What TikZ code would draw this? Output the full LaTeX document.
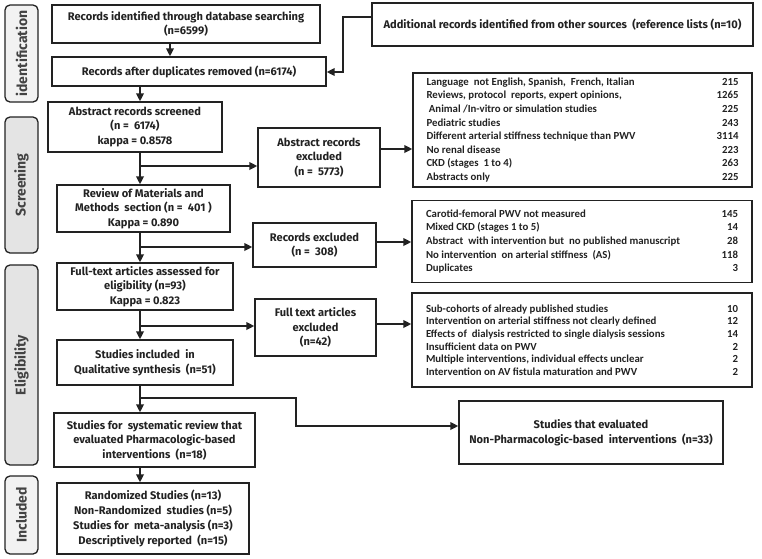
\documentclass[tikz,border=0pt]{standalone}
\usepackage{fontspec}
\setmainfont{Fira Sans}
\newfontfamily\listfont{Carlito}
\usetikzlibrary{arrows.meta}
\definecolor{ink}{HTML}{222222}
\definecolor{sidefill}{HTML}{E4E4E4}
\newcommand{\lrow}[2]{\makebox[292pt][l]{#1}\makebox[20pt][r]{#2}}
\begin{document}
\begin{tikzpicture}[x=1pt,y=-1pt,
  box/.style={draw=ink, line width=1.3pt, inner sep=0pt, align=center, text=ink,
    font=\bfseries\fontsize{11.1}{14.5}\selectfont},
  lst/.style={draw=ink, line width=1.3pt, inner sep=0pt, align=left, text=ink,
    font=\listfont\bfseries\fontsize{10.8}{13.6}\selectfont},
  side/.style={draw=ink, line width=1.3pt, rounded corners=5pt, inner sep=0pt, rotate=90,
    minimum height=33pt, text=ink!85, font=\bfseries\fontsize{14}{14}\selectfont},
  conn/.style={draw=ink, line width=2.3pt},
  arr/.style={conn, -{Triangle[length=8pt,width=7.5pt]}}
]
\useasboundingbox (0,0) rectangle (762,558);

% side bars
\node[side, fill=white!95!black, minimum width=97pt] (sid) at (21.5,53.5) {identification};
\node[side, fill=sidefill, minimum width=136pt] (scr) at (21.5,185) {Screening};
\node[side, fill=sidefill, minimum width=200pt] (eli) at (21.5,365) {Eligibility};
\node[side, fill=white!95!black, minimum width=78pt] (inc) at (21.5,515) {Included};

% main boxes
\node[box, minimum width=268pt, minimum height=38pt] (b1) at (186,24)
  {Records identified through database searching\\(n=6599)};
\node[box, minimum width=381pt, minimum height=43pt] (add) at (562.5,24.5)
  {Additional records identified from other sources \ (reference lists (n=10)};
\node[box, minimum width=274pt, minimum height=29pt] (b2) at (189,71.5)
  {Records after duplicates removed (n=6174)};
\node[box, minimum width=174pt, minimum height=50pt] (b3) at (135,127)
  {Abstract records screened\\(n = \ 6174)\\kappa = 0.8578};
\node[box, minimum width=122pt, minimum height=59pt] (ae) at (319,157.5)
  {Abstract records\\excluded\\(n = \ 5773)};
\node[box, minimum width=173pt, minimum height=47pt] (b4) at (143.5,208.5)
  {Review of Materials and\\Methods \ section (n = \ 401 )\\Kappa = 0.890};
\node[box, minimum width=123pt, minimum height=44pt] (re) at (314.5,245)
  {Records excluded\\(n = \ 308)};
\node[box, minimum width=176pt, minimum height=47pt] (b5) at (145,286.5)
  {Full-text articles assessed for\\eligibility (n=93)\\Kappa = 0.823};
\node[box, minimum width=121pt, minimum height=57pt] (fe) at (315.5,327.5)
  {Full text articles\\excluded\\(n=42)};
\node[box, minimum width=176pt, minimum height=45pt] (b6) at (145,362.5)
  {Studies included \ in\\Qualitative synthesis \ (n=51)};
\node[box, minimum width=264pt, minimum height=63pt] (np) at (591,432.5)
  {Studies that evaluated\\Non-Pharmacologic-based \ interventions \ (n=33)};
\node[box, minimum width=201pt, minimum height=54pt] (b7) at (154.5,440)
  {Studies for \ systematic review that\\evaluated Pharmacologic-based\\interventions \ (n=18)};
\node[box, minimum width=192pt, minimum height=71pt, font=\bfseries\fontsize{11.1}{15.2}\selectfont] (b8) at (153,518.5)
  {Randomized Studies (n=13)\\Non-Randomized \ studies (n=5)\\Studies for \ meta-analysis (n=3)\\Descriptively reported \ (n=15)};

% exclusion lists
\node[lst, minimum width=339pt, minimum height=114pt] (l1) at (582.5,130) {%
\lrow{Language \ not English, Spanish, \ French, Italian}{215}\\
\lrow{Reviews, protocol \ reports, expert opinions,}{1265}\\
\lrow{\ Animal /In-vitro or simulation studies}{225}\\
\lrow{Pediatric studies}{243}\\
\lrow{Different arterial stiffness technique than PWV}{3114}\\
\lrow{No renal disease}{223}\\
\lrow{CKD (stages \ 1 to 4)}{263}\\
\lrow{Abstracts only}{225}};
\node[lst, minimum width=340pt, minimum height=82pt] (l2) at (582,241.5) {%
\lrow{Carotid-femoral PWV not measured}{145}\\
\lrow{Mixed CKD (stages 1 to 5)}{14}\\
\lrow{Abstract \ with intervention but \ no published manuscript}{28}\\
\lrow{No intervention \ on arterial stiffness \ (AS)}{118}\\
\lrow{Duplicates}{3}};
\node[lst, minimum width=340pt, minimum height=94pt, font=\listfont\bfseries\fontsize{10.8}{12.6}\selectfont] (l3) at (582,340) {%
\lrow{Sub-cohorts of already published studies}{10}\\
\lrow{Intervention on arterial stiffness not clearly defined}{12}\\
\lrow{Effects of \ dialysis restricted to single dialysis sessions}{14}\\
\lrow{Insufficient data on PWV}{2}\\
\lrow{Multiple interventions, individual effects unclear}{2}\\
\lrow{Intervention on AV fistula maturation and PWV}{2}};

% connectors
\draw[arr] (170,0 |- b1.south) -- (170,0 |- b2.north);
\draw[arr] (add.west |- 0,17) -- (343,17) -- (343,72) -- (b2.east |- 0,72);
\draw[arr] (140,0 |- b2.south) -- (140,0 |- b3.north);
\draw[arr] (140,0 |- b3.south) -- (140,0 |- b4.north);
\draw[arr] (140,166) -- (ae.west |- 0,166);
\draw[arr] (ae.east |- 0,149) -- (l1.west |- 0,149);
\draw[arr] (140,0 |- b4.south) -- (140,0 |- b5.north);
\draw[arr] (140,247) -- (re.west |- 0,247);
\draw[arr] (re.east |- 0,242) -- (l2.west |- 0,242);
\draw[arr] (140,0 |- b5.south) -- (140,0 |- b6.north);
\draw[arr] (140,326) -- (fe.west |- 0,326);
\draw[arr] (fe.east |- 0,324) -- (l3.west |- 0,324);
\draw[arr] (140,0 |- b6.south) -- (140,0 |- b7.north);
\draw[arr] (140,398) -- (296,398) -- (296,426) -- (np.west |- 0,426);
\draw[arr] (140,0 |- b7.south) -- (140,0 |- b8.north);
\end{tikzpicture}
\end{document}
